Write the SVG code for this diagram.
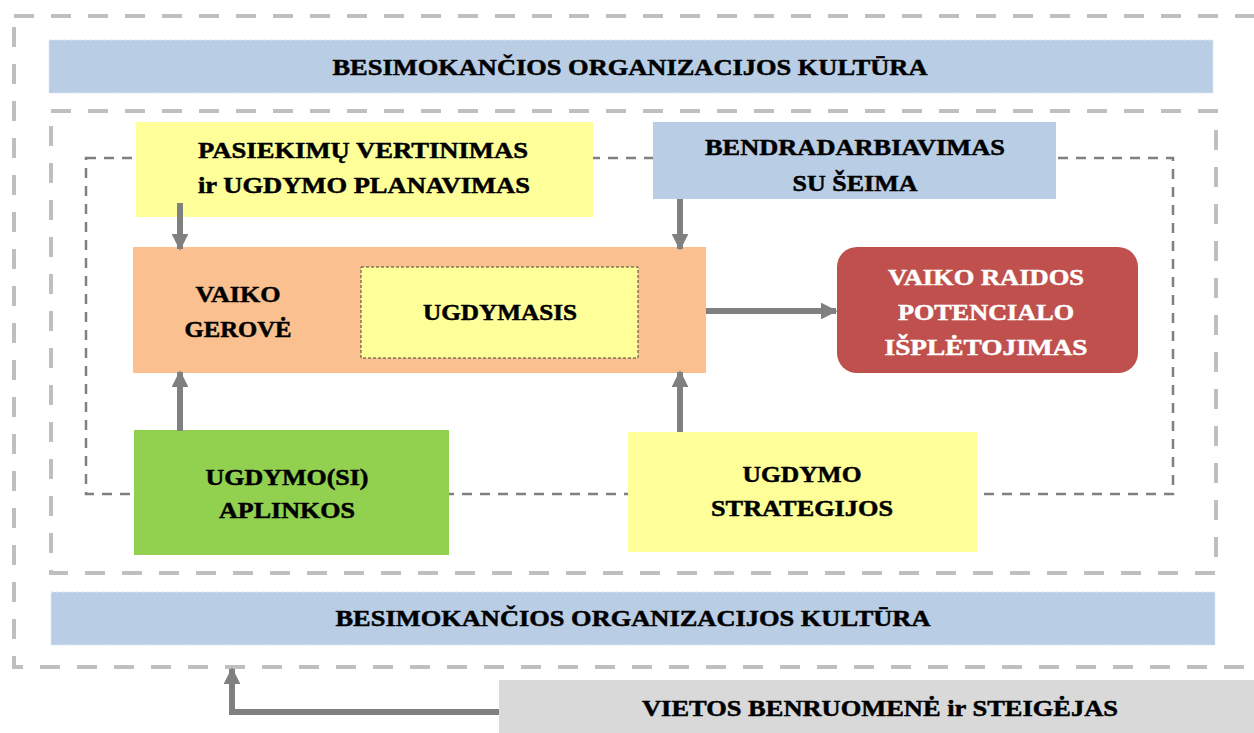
<svg xmlns="http://www.w3.org/2000/svg" width="1254" height="733" viewBox="0 0 1254 733" font-family="'Liberation Serif', 'Times New Roman', 'DejaVu Serif', serif">
<defs>
<marker id="ah" viewBox="0 0 10 10" refX="9" refY="5" markerWidth="2.8" markerHeight="2.8" orient="auto" markerUnits="strokeWidth">
<path d="M0,0 L10,5 L0,10 z" fill="#808080"/>
</marker>
</defs>
<style>
text{font-weight:bold;font-size:23px;text-anchor:middle;fill:#000;stroke:#000;stroke-width:0.5}
.frame{fill:none;stroke:#bfbfbf;stroke-width:4;stroke-dasharray:20 17}
.inner{fill:none;stroke:#808080;stroke-width:2.5;stroke-dasharray:10 8}
.banner{fill:#b9cde5;stroke:#dce6f2;stroke-width:1;stroke-dasharray:3 2}
.arr{fill:none;stroke:#808080;stroke-width:6;marker-end:url(#ah)}
text.w{fill:#fff;stroke:#fff}
</style>
<rect width="1254" height="733" fill="#fff"/>
<g id="frames">
<rect class="frame" x="14" y="16" width="1270" height="651"/>
<rect class="frame" x="51" y="111" width="1165" height="462"/>
<rect class="inner" x="86" y="158" width="1087" height="336"/>
</g>
<g id="banner-top">
<rect class="banner" x="49" y="40" width="1164" height="53"/>
<text x="630" y="75" textLength="595" lengthAdjust="spacingAndGlyphs">BESIMOKANČIOS ORGANIZACIJOS KULTŪRA</text>
</g>
<g id="banner-bottom">
<rect class="banner" x="51" y="592" width="1164" height="53"/>
<text x="633" y="626" textLength="595" lengthAdjust="spacingAndGlyphs">BESIMOKANČIOS ORGANIZACIJOS KULTŪRA</text>
</g>
<g id="pasiekimu">
<rect x="136" y="122" width="457" height="95" fill="#ffff99"/>
<text x="363" y="158" textLength="330" lengthAdjust="spacingAndGlyphs">PASIEKIMŲ VERTINIMAS</text>
<text x="364" y="193" textLength="332" lengthAdjust="spacingAndGlyphs">ir UGDYMO PLANAVIMAS</text>
</g>
<g id="bendradarbiavimas">
<rect x="653" y="122" width="403" height="77" fill="#b9cde5"/>
<text x="855" y="155" textLength="300" lengthAdjust="spacingAndGlyphs">BENDRADARBIAVIMAS</text>
<text x="855" y="191" textLength="125" lengthAdjust="spacingAndGlyphs">SU ŠEIMA</text>
</g>
<g id="vaiko-gerove">
<rect x="133" y="247" width="573" height="126" fill="#fac090"/>
<text x="238" y="302" textLength="85" lengthAdjust="spacingAndGlyphs">VAIKO</text>
<text x="238" y="337" textLength="107" lengthAdjust="spacingAndGlyphs">GEROVĖ</text>
</g>
<g id="ugdymasis">
<rect x="361" y="267" width="277" height="91" fill="#ffff99" stroke="#404040" stroke-width="1" stroke-dasharray="3 2"/>
<text x="500" y="320" textLength="154" lengthAdjust="spacingAndGlyphs">UGDYMASIS</text>
</g>
<g id="raidos">
<rect x="837" y="247" width="301" height="126" rx="20" fill="#c0504d"/>
<text class="w" x="986" y="285" textLength="196" lengthAdjust="spacingAndGlyphs">VAIKO RAIDOS</text>
<text class="w" x="986" y="320" textLength="176" lengthAdjust="spacingAndGlyphs">POTENCIALO</text>
<text class="w" x="986" y="355" textLength="203" lengthAdjust="spacingAndGlyphs">IŠPLĖTOJIMAS</text>
</g>
<g id="aplinkos">
<rect x="134" y="430" width="315" height="125" fill="#92d050"/>
<text x="287" y="485" textLength="163" lengthAdjust="spacingAndGlyphs">UGDYMO(SI)</text>
<text x="287" y="518" textLength="136" lengthAdjust="spacingAndGlyphs">APLINKOS</text>
</g>
<g id="strategijos">
<rect x="628" y="432" width="349" height="120" fill="#ffff99"/>
<text x="802" y="482" textLength="119" lengthAdjust="spacingAndGlyphs">UGDYMO</text>
<text x="802" y="516" textLength="182" lengthAdjust="spacingAndGlyphs">STRATEGIJOS</text>
</g>
<g id="vietos">
<rect x="499" y="680" width="760" height="60" fill="#d9d9d9"/>
<text x="880" y="716" textLength="476" lengthAdjust="spacingAndGlyphs">VIETOS BENRUOMENĖ ir STEIGĖJAS</text>
</g>
<g id="connectors">
<path class="arr" d="M180,203 L180,249"/>
<path class="arr" d="M680,199 L680,249"/>
<path class="arr" d="M180,431 L180,372"/>
<path class="arr" d="M680,432 L680,372"/>
<path class="arr" d="M706,311 L836,311"/>
<path class="arr" d="M499,712 L232,712 L232,669"/>
</g>
</svg>
